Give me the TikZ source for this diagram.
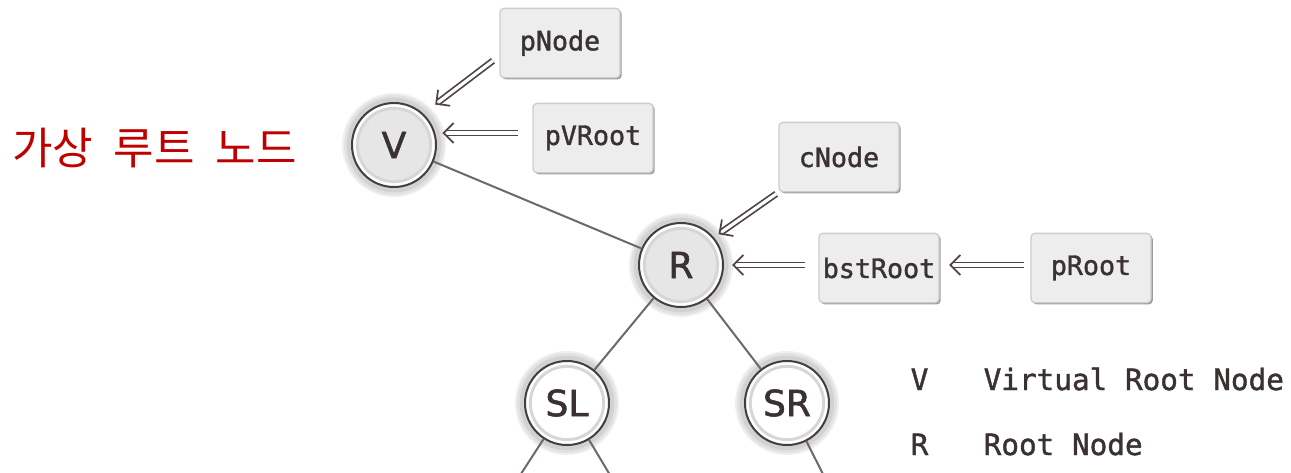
\documentclass[tikz,border=0pt]{standalone}
\usepackage{fontspec}
\setmainfont{DejaVu Sans}
\newfontfamily\labelfont[RawFeature={embolden=1.6}]{DejaVu Sans}
\newfontfamily\krfont[WordSpace=2.1]{Noto Sans CJK KR}
\newfontfamily\codefont[RawFeature={embolden=1.4}]{DejaVu Sans Mono}
\usetikzlibrary{calc,shadows,backgrounds,decorations.markings}

\definecolor{ink}{HTML}{3A3232}
\definecolor{edgec}{HTML}{6E6868}
\definecolor{ringdark}{HTML}{463E3E}
\definecolor{halo}{HTML}{D2D2D2}
\definecolor{ringlight}{HTML}{D6D6D6}
\definecolor{corefill}{HTML}{E6E6E6}
\definecolor{boxfill}{HTML}{EDEDED}
\definecolor{boxline}{HTML}{CDCDCD}
\definecolor{krred}{HTML}{C00000}
\definecolor{arrowc}{HTML}{4E4444}

\tikzset{
  treenode/.style={circle, draw=ringdark, line width=1.5pt, fill=white,
    minimum size=63pt, inner sep=0pt, text=ink,
    font=\labelfont\fontsize{27}{27}\selectfont,
    path picture={\draw[ringlight, line width=2.2pt, fill=#1]
      (path picture bounding box.center) circle (27.5pt);}},
  ptrbox/.style={rectangle, rounded corners=3pt, draw=boxline, line width=1pt,
    fill=boxfill, minimum width=90pt, minimum height=52pt, inner sep=0pt,
    text=ink, font=\codefont\fontsize{20}{20}\selectfont,
    drop shadow={shadow xshift=1.3pt, shadow yshift=-1.3pt, opacity=0.55, fill=black!70}},
  treeedge/.style={draw=edgec, line width=1.5pt},
  % hollow double-shafted pointer with an open chevron head
  ptrarrow/.style={draw=arrowc, line width=5pt,
    postaction={draw=white, line width=2.4pt},
    postaction={decorate, decoration={markings, mark=at position 1 with {
      \draw[arrowc, line width=1.3pt, line join=miter]
        (-5pt,7.5pt) -- (2.5pt,0pt) -- (-5pt,-7.5pt);}}}},
  legend/.style={anchor=base west, text=ink, font=\codefont\fontsize{22}{22}\selectfont},
}

\begin{document}
\begin{tikzpicture}[x=0.75pt, y=-0.75pt]
\useasboundingbox (0,0) rectangle (1291,472);

% tree nodes
\node[treenode=corefill] (V)  at (394,145) {V};
\node[treenode=corefill] (R)  at (681,265) {R};
\node[treenode=white]    (SL) at (567,403) {SL};
\node[treenode=white]    (SR) at (787,403) {SR};

% pointer boxes
\node[ptrbox] (pNode)   at (560,43)   {pNode};
\node[ptrbox] (pVRoot)  at (593,138)  {pVRoot};
\node[ptrbox] (cNode)   at (839,157)  {cNode};
\node[ptrbox] (bstRoot) at (879,268)  {bstRoot};
\node[ptrbox] (pRoot)   at (1091,268) {pRoot};

% open ends of the subtrees below SL and SR
\coordinate (SLa) at (517,480);
\coordinate (SLb) at (613,480);
\coordinate (SRb) at (826,480);

% soft halos behind the tree nodes
\begin{scope}[on background layer]
  \foreach \n in {V,R,SL,SR}{
    \fill[halo!35] (\n) circle (39pt);
    \fill[halo!65] (\n) circle (37.5pt);
    \fill[halo] (\n) circle (35.5pt);
  }
\end{scope}

% tree edges
\draw[treeedge] (V) -- (R);
\draw[treeedge] (R) -- (SL);
\draw[treeedge] (R) -- (SR);
\draw[treeedge] (SL) -- (SLa);
\draw[treeedge] (SL) -- (SLb);
\draw[treeedge] (SR) -- (SRb);

% attachment points of the horizontal pointers
\coordinate (pvrT) at ([yshift=3.75pt]pVRoot.west);
\coordinate (pvrH) at (pvrT -| V.east);
\coordinate (bstT) at ([yshift=2.25pt]bstRoot.west);
\coordinate (bstH) at (bstT -| R.east);
\coordinate (prT)  at ([yshift=2.25pt]pRoot.west);
\coordinate (prH)  at (prT -| bstRoot.east);

% pointer arrows
\draw[ptrarrow] ($(pNode.192)!6pt!(V.47)$) -- ($(V.47)!14.5pt!(pNode.192)$);
\draw[ptrarrow] ($(pvrT)!11pt!(pvrH)$) -- ($(pvrH)!7.5pt!(pvrT)$);
\draw[ptrarrow] ($(cNode.south west)!2pt!(R.40)$) -- ($(R.40)!7.5pt!(cNode.south west)$);
\draw[ptrarrow] ($(bstT)!10pt!(bstH)$) -- ($(bstH)!9.5pt!(bstT)$);
\draw[ptrarrow] ($(prT)!5pt!(prH)$) -- ($(prH)!10.5pt!(prT)$);

% caption of the virtual root
\node[anchor=west, text=krred, inner sep=0pt,
      font=\krfont\fontsize{33}{33}\selectfont] (vlabel) at (12,148) {가상 루트 노드};

% legend
\node[legend] (lV)  at (906,390) {V};
\node[legend] (lVt) at (979,390) {Virtual Root Node};
\node[legend] (lR)  at (906,455) {R};
\node[legend] (lRt) at (979,455) {Root Node};
\end{tikzpicture}
\end{document}
